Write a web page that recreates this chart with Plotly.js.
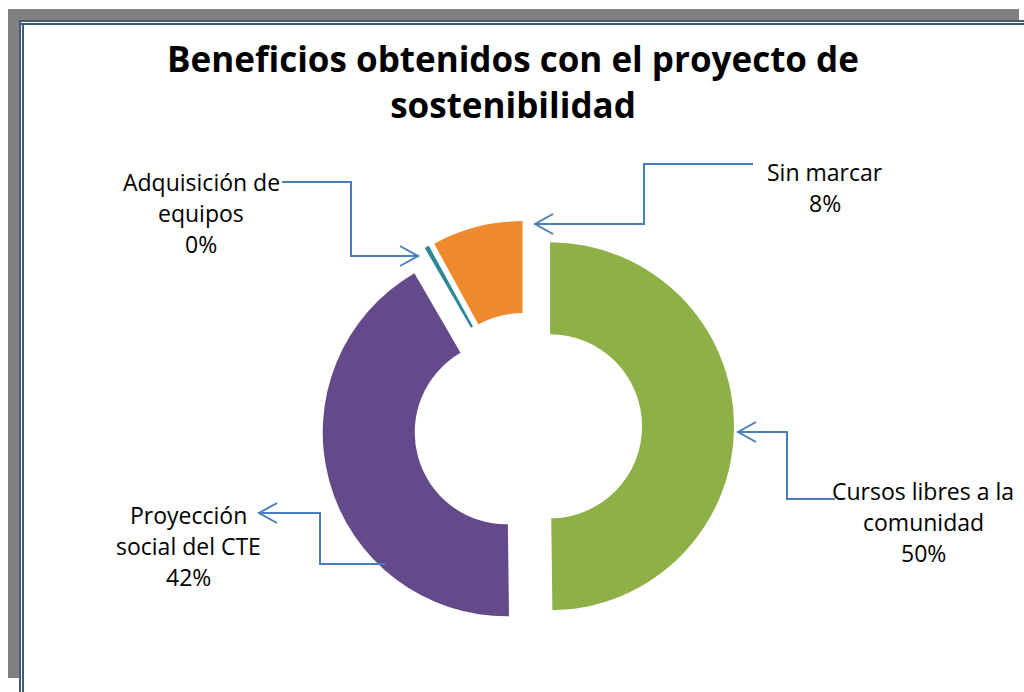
<!DOCTYPE html>
<html><head><meta charset="utf-8">
<script src="https://cdn.plot.ly/plotly-3.0.1.min.js"></script>
<style>html,body{margin:0;padding:0;background:#fff;overflow:hidden}
#chart{position:absolute;left:0;top:0;width:1024px;height:692px}
.f{position:absolute;pointer-events:none}
</style></head><body>
<div id="chart"></div>
<div class="f" style="left:8px;top:9px;width:1011px;height:11px;background:#808080"></div>
<div class="f" style="left:8px;top:9px;width:11px;height:669px;background:#808080"></div>
<div class="f" style="left:19px;top:20px;width:1005px;height:2px;background:#3e5c7a"></div>
<div class="f" style="left:19px;top:23px;width:1005px;height:2px;background:#3e5c7a"></div>
<div class="f" style="left:19px;top:20px;width:2px;height:672px;background:#3e5c7a"></div>
<div class="f" style="left:22px;top:23px;width:2px;height:669px;background:#3e5c7a"></div>
<script>
const categories = ["Cursos libres a la<br>comunidad", "Proyección<br>social del CTE", "Adquisición de<br>equipos", "Sin marcar"];
const values = [50, 42, 0.4, 8];
const pctLabels = ["50%", "42%", "0%", "8%"];
const colors = ["#8db146", "#654a8b", "#2b8796", "#f0892c"];
const titleText = "Beneficios obtenidos con el proyecto de<br>sostenibilidad";

const W = 1024, H = 692;
const px = x => x / W, py = y => 1 - y / H;

// label layout (pixel positions of first line centre)
const labelPos = [[923, 491], [188, 515], [201, 182], [825, 172]];
const lineH = 31;
// leader lines (pixel), last point = arrow tip
const leaders = [
  [[835,499],[787,499],[787,432],[738,432]],
  [[385,564],[320,564],[320,513],[259,513]],
  [[282,182],[351,182],[351,256],[418,256]],
  [[753,164],[644,164],[644,224],[535,224]]
];

const labelFont = {family: '"Open Sans", sans-serif', size: 23, color: '#000'};
const annotations = [];
categories.forEach((c, i) => {
  const lines = (c + "<br>" + pctLabels[i]).split("<br>");
  lines.forEach((t, k) => {
    annotations.push({
      text: t, showarrow: false, xref: 'paper', yref: 'paper',
      x: px(labelPos[i][0]), y: py(labelPos[i][1] + k * lineH),
      xanchor: 'center', yanchor: 'middle', font: labelFont
    });
  });
});

const shapes = [];
leaders.forEach(pts => {
  let d = pts.map((p, k) => (k ? 'L' : 'M') + px(p[0]) + ',' + py(p[1])).join(' ');
  shapes.push({type: 'path', xref: 'paper', yref: 'paper', path: d,
    line: {color: '#4a7ebb', width: 2}});
  const tip = pts[pts.length - 1], prev = pts[pts.length - 2];
  const dir = Math.sign(prev[0] - tip[0]);
  const a = 'M' + px(tip[0] + dir * 18) + ',' + py(tip[1] - 10) + ' L' + px(tip[0]) + ',' + py(tip[1]) +
            ' L' + px(tip[0] + dir * 18) + ',' + py(tip[1] + 10);
  shapes.push({type: 'path', xref: 'paper', yref: 'paper', path: a,
    line: {color: '#4a7ebb', width: 2}});
});

const cx = 528, cy = 426.5, r = 184, pull = 0.12;
const half = r * (1 + pull);

const data = [{
  type: 'pie', labels: categories, values: values, sort: false,
  direction: 'clockwise', rotation: 0, hole: 0.5,
  pull: values.map(() => pull), textinfo: 'none', hoverinfo: 'label+percent',
  marker: {colors: colors, line: {width: 0}},
  domain: {x: [px(cx - half), px(cx + half)], y: [py(cy + half), py(cy - half)]},
  showlegend: false
}];

const layout = {
  width: W, height: H, margin: {l: 0, r: 0, t: 0, b: 0},
  paper_bgcolor: '#ffffff',
  title: {text: titleText, x: px(513), xanchor: 'center', y: py(72), yanchor: 'middle',
    font: {family: '"Open Sans", sans-serif', size: 35, color: '#000', weight: 'bold'}},
  annotations: annotations, shapes: shapes
};
Plotly.newPlot('chart', data, layout, {displayModeBar: false, staticPlot: true});
</script></body></html>
